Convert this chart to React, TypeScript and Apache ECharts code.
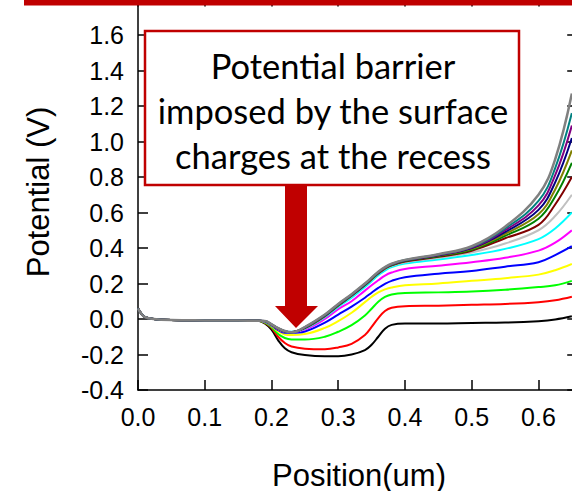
import React, { useEffect, useRef } from "react";
import * as echarts from "echarts";

// Position (um) sample points
const positions = [0, 0.005, 0.01, 0.02, 0.05, 0.1, 0.15, 0.18,
  0.19, 0.2, 0.21, 0.22, 0.23, 0.25, 0.28, 0.3, 0.32, 0.34, 0.35, 0.36, 0.37, 0.38,
  0.4, 0.45, 0.5, 0.55, 0.6, 0.625, 0.65];

// common lead-in (0 .. 0.18 um), all curves overlap here
const leadIn = [0.06, 0.03, 0.012, 0.002, -0.006, -0.008, -0.009, -0.01];

// potential (V) from 0.19 um on, bottom curve first
const black = [-0.025, -0.06, -0.12, -0.165, -0.187, -0.203, -0.21, -0.21, -0.2, -0.175, -0.145, -0.1, -0.055, -0.033, -0.025, -0.025, -0.022, -0.02, -0.012, -0.003, 0.015];
const red = [-0.022, -0.05, -0.1, -0.135, -0.155, -0.167, -0.17, -0.16, -0.14, -0.09, -0.045, 0.005, 0.045, 0.063, 0.072, 0.075, 0.08, 0.085, 0.095, 0.105, 0.125];
const green = [-0.02, -0.045, -0.085, -0.107, -0.115, -0.116, -0.1, -0.072, -0.035, 0.02, 0.058, 0.097, 0.124, 0.138, 0.146, 0.15, 0.155, 0.165, 0.18, 0.19, 0.215];
const yellow = [-0.018, -0.04, -0.07, -0.087, -0.09, -0.085, -0.05, -0.012, 0.035, 0.095, 0.125, 0.15, 0.167, 0.178, 0.19, 0.2, 0.215, 0.23, 0.25, 0.275, 0.31];
const blue = [-0.016, -0.037, -0.062, -0.077, -0.078, -0.07, -0.02, 0.025, 0.07, 0.12, 0.148, 0.175, 0.198, 0.215, 0.235, 0.255, 0.27, 0.295, 0.32, 0.36, 0.41];
const magenta = [-0.015, -0.035, -0.058, -0.072, -0.073, -0.06, 0.0, 0.055, 0.1, 0.16, 0.19, 0.218, 0.245, 0.262, 0.282, 0.3, 0.32, 0.345, 0.385, 0.43, 0.5];
const cyan = [-0.014, -0.034, -0.056, -0.07, -0.072, -0.055, 0.01, 0.068, 0.12, 0.18, 0.213, 0.247, 0.273, 0.292, 0.312, 0.335, 0.36, 0.395, 0.45, 0.51, 0.6];
const silver = [-0.013, -0.033, -0.055, -0.07, -0.073, -0.052, 0.015, 0.075, 0.13, 0.19, 0.223, 0.256, 0.282, 0.3, 0.32, 0.345, 0.375, 0.425, 0.5, 0.58, 0.7];
const maroon = [-0.013, -0.033, -0.055, -0.07, -0.073, -0.051, 0.016, 0.076, 0.131, 0.191, 0.224, 0.257, 0.284, 0.302, 0.324, 0.35, 0.385, 0.455, 0.53, 0.645, 0.8];
const darkGreen = [-0.012, -0.032, -0.054, -0.07, -0.074, -0.05, 0.018, 0.077, 0.132, 0.192, 0.226, 0.259, 0.286, 0.304, 0.327, 0.354, 0.39, 0.468, 0.565, 0.69, 0.88];
const olive = [-0.012, -0.032, -0.054, -0.07, -0.074, -0.049, 0.019, 0.079, 0.134, 0.194, 0.227, 0.26, 0.287, 0.305, 0.329, 0.357, 0.395, 0.48, 0.59, 0.73, 0.95];
const navy = [-0.012, -0.031, -0.053, -0.07, -0.074, -0.048, 0.02, 0.08, 0.135, 0.195, 0.229, 0.262, 0.289, 0.307, 0.33, 0.359, 0.399, 0.49, 0.615, 0.77, 1.02];
const purple = [-0.011, -0.031, -0.053, -0.069, -0.075, -0.047, 0.022, 0.082, 0.137, 0.197, 0.23, 0.263, 0.29, 0.308, 0.331, 0.361, 0.402, 0.5, 0.64, 0.81, 1.09];
const teal = [-0.011, -0.03, -0.052, -0.069, -0.075, -0.046, 0.023, 0.083, 0.138, 0.198, 0.232, 0.264, 0.291, 0.31, 0.332, 0.363, 0.406, 0.51, 0.665, 0.85, 1.16];
const gray = [-0.011, -0.03, -0.052, -0.068, -0.075, -0.045, 0.025, 0.085, 0.14, 0.2, 0.233, 0.266, 0.292, 0.311, 0.333, 0.365, 0.41, 0.52, 0.7, 0.9, 1.27];

const curves = [black, red, green, yellow, blue, magenta, cyan, silver, maroon, darkGreen, olive, navy, purple, teal, gray];
const curveColors = ["#000000", "#ff0000", "#00ff00", "#ffff00", "#0000ff", "#ff00ff", "#00ffff", "#c0c0c0",
  "#800000", "#008000", "#808000", "#000080", "#800080", "#008080", "#808080"];

const noteLines = ["Potential barrier", "imposed by the surface", "charges at the recess"];
const xTitle = "Position(um)";
const yTitle = "Potential (V)";

const OY = 20; // chart div is shifted up by this many px
const DARK_RED = "#c00000";

export default function App() {
  const ref = useRef<HTMLDivElement>(null);
  useEffect(() => {
    if (!ref.current) return;
    const chart = echarts.init(ref.current, undefined, { renderer: "svg" });
    const axisFont = "Liberation Sans, Arial, sans-serif";
    const series = curves.map((c, k) => ({
      type: "line",
      data: positions.map((x, i) => [x, i < leadIn.length ? leadIn[i] : c[i - leadIn.length]]),
      symbol: "none",
      smooth: 0.4,
      lineStyle: { color: curveColors[k], width: k === curves.length - 1 ? 2.5 : 2 },
      itemStyle: { color: curveColors[k] },
      z: 2,
    }));
    const axisLine = { show: true, onZero: false, lineStyle: { color: "#000", width: 1.5 } };
    const tickStyle = { lineStyle: { color: "#000", width: 1.5 } };
    chart.setOption({
      animation: false,
      backgroundColor: "#fff",
      grid: { left: 138, top: 19.5, width: 437.2, height: 390.5 },
      xAxis: [
        {
          type: "value", min: 0, max: 0.655, interval: 0.1, position: "bottom",
          axisLine,
          axisTick: { show: true, inside: true, length: 10, ...tickStyle },
          axisLabel: {
            fontSize: 25, color: "#000", fontFamily: axisFont, margin: 14,
            showMaxLabel: false, formatter: (v: number) => v.toFixed(1),
          },
          splitLine: { show: false },
        },
        {
          type: "value", min: 0, max: 0.655, interval: 0.1, position: "top",
          axisLine,
          axisTick: { show: true, inside: true, length: 7, ...tickStyle },
          axisLabel: { show: false },
          splitLine: { show: false },
        },
      ],
      yAxis: [
        {
          type: "value", min: -0.4, max: 1.8, interval: 0.2, position: "left",
          axisLine,
          axisTick: { show: true, inside: true, length: 10, ...tickStyle },
          axisLabel: {
            fontSize: 25, color: "#000", fontFamily: axisFont, margin: 14,
            showMaxLabel: false, formatter: (v: number) => v.toFixed(1),
          },
          splitLine: { show: false },
        },
        {
          type: "value", min: -0.4, max: 1.8, interval: 0.2, position: "right",
          axisLine,
          axisTick: { show: true, inside: true, length: 8, ...tickStyle },
          axisLabel: { show: false },
          splitLine: { show: false },
        },
      ],
      series,
      graphic: [
        { type: "rect", z: 100, shape: { x: 24, y: 0, width: 580, height: OY + 5.5 }, style: { fill: DARK_RED } },
        {
          type: "rect", z: 100,
          shape: { x: 145, y: 31 + OY, width: 374, height: 154 },
          style: { fill: "#fff", stroke: DARK_RED, lineWidth: 2.5 },
        },
        ...noteLines.map((t, i) => ({
          type: "text", z: 101, x: 333, y: 65.5 + i * 45 + OY,
          style: { text: t, fontSize: 34.5, fontFamily: "Lato, 'Open Sans', sans-serif", fill: "#000", align: "center", verticalAlign: "middle" },
        })),
        {
          type: "polygon", z: 100,
          shape: {
            points: [[285, 186 + OY], [307, 186 + OY], [307, 306 + OY], [318, 306 + OY], [296, 328 + OY], [275, 306 + OY], [285, 306 + OY]],
          },
          style: { fill: DARK_RED },
        },
        {
          type: "text", z: 101, x: 359, y: 475 + OY,
          style: { text: xTitle, fontSize: 31, fontFamily: axisFont, fill: "#000", align: "center", verticalAlign: "middle" },
        },
        {
          type: "text", z: 101, x: 38, y: 192 + OY, rotation: Math.PI / 2,
          style: { text: yTitle, fontSize: 31, fontFamily: axisFont, fill: "#000", align: "center", verticalAlign: "middle" },
        },
      ],
    });
    return () => chart.dispose();
  }, []);
  return (
    <div style={{ position: "fixed", left: 0, top: 0, width: 572, height: 491, overflow: "hidden", background: "#fff" }}>
      <div ref={ref} style={{ position: "absolute", left: 0, top: -OY, width: 600, height: 491 + OY }} />
    </div>
  );
}
